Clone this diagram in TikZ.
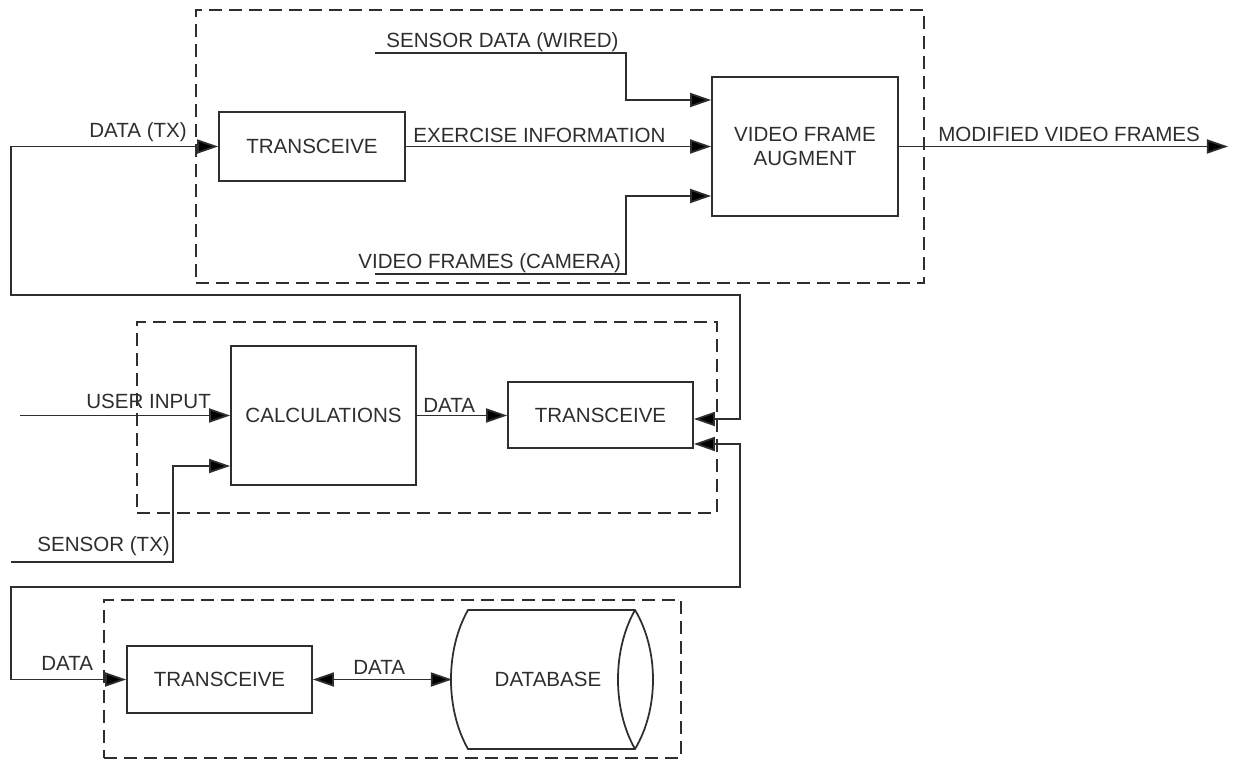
\documentclass[tikz,border=0pt]{standalone}
\usepackage{fontspec}
\setmainfont{Liberation Sans}
\usetikzlibrary{arrows.meta,calc}
\definecolor{ink}{HTML}{2E2E2E}
\begin{document}
\begin{tikzpicture}[x=0.02cm,y=-0.02cm,
  font=\fontsize{11.7}{13.5}\selectfont,
  every node/.style={text=ink},
  wire/.style={draw=ink,line width=1pt},
  tip/.style={-{Triangle[length=12pt,width=8pt,fill=black]}},
  tips/.style={{Triangle[length=12pt,width=8pt,fill=black]}-{Triangle[length=12pt,width=8pt,fill=black]}},
  block/.style={draw=ink,line width=1pt,inner sep=0pt,align=center},
  group/.style={draw=ink,line width=1pt,dash pattern=on 7.4pt off 4pt,inner sep=0pt},
  lbl/.style={anchor=base west,inner sep=0pt}]
\useasboundingbox (0,0) rectangle (1233,760);

% dashed groupings
\node[group,minimum width=14.56cm,minimum height=5.46cm] (g1) at (560,146.5) {};
\node[group,minimum width=11.6cm,minimum height=3.82cm] (g2) at (427,417.5) {};
\node[group,minimum width=11.54cm,minimum height=3.16cm] (g3) at (392.5,679) {};

% blocks
\node[block,minimum width=3.72cm,minimum height=1.38cm] (tr1) at (312,146.5) {TRANSCEIVE};
\node[block,minimum width=3.72cm,minimum height=2.78cm] (aug) at (805,146.5) {VIDEO FRAME\\AUGMENT};
\node[block,minimum width=3.70cm,minimum height=2.78cm] (calc) at (323.5,415.5) {CALCULATIONS};
\node[block,minimum width=3.70cm,minimum height=1.32cm] (tr2) at (600.5,415) {TRANSCEIVE};
\node[block,minimum width=3.70cm,minimum height=1.34cm] (tr3) at (219.5,679.5) {TRANSCEIVE};
\node[inner sep=0pt,minimum width=4.04cm,minimum height=2.78cm] (db) at (548,679.5) {DATABASE};

% database drum
\draw[wire] (468,610) -- (635,610)
  .. controls (659,650) and (659,709) .. (635,749) -- (468,749)
  .. controls (445.3,709) and (445.3,650) .. cycle;
\draw[wire] (635,610) .. controls (612.3,650) and (612.3,709) .. (635,749);
\coordinate (dbin) at (452,679.5);

% free line ends
\coordinate (sdw) at (375,53);
\coordinate (vfc) at (375,274);
\coordinate (mvf) at (1228,146.5);
\coordinate (ui) at (20,415.5);
\coordinate (stx) at (11,562);

% top group connectors
\draw[wire,tip] (sdw) -- (626,53) |- ($(aug.west)+(0,-46.5)$);
\draw[wire,tip] (tr1.east) -- (aug.west);
\draw[wire,tip] (vfc) -- (626,274) |- ($(aug.west)+(0,49.5)$);
\draw[wire,tip] (aug.east) -- (mvf);

% links between groups
\draw[wire,tips] (tr1.west) -- (11,146.5) -- (11,295) -- (740,295) -- (740,419) -- ($(tr2.east)+(0,4)$);
\draw[wire,tips] ($(tr2.east)+(0,29)$) -- (740,444) -- (740,587) -- (11,587) -- (11,679.5) -- (tr3.west);

% middle group connectors
\draw[wire,tip] (ui) -- (calc.west);
\draw[wire,tip] (stx) -- (173,562) |- ($(calc.west)+(0,50.5)$);
\draw[wire,tip] (calc.east) -- (calc.east -| tr2.west);

% bottom group connector
\draw[wire,tips] (tr3.east) -- (dbin);

% labels
\node[lbl] (l1) at (386,48) {SENSOR DATA (WIRED)};
\node[lbl] (l2) at (413,143) {EXERCISE INFORMATION};
\node[lbl] (l3) at (358,268) {VIDEO FRAMES (CAMERA)};
\node[lbl] (l4) at (938,142) {MODIFIED VIDEO FRAMES};
\node[lbl] (l5) at (89,138) {DATA (TX)};
\node[lbl] (l6) at (86,408) {USER INPUT};
\node[lbl] (l7) at (423,412) {DATA};
\node[lbl] (l8) at (37,551) {SENSOR (TX)};
\node[lbl] (l9) at (41,670) {DATA};
\node[lbl] (l10) at (353,674) {DATA};
\end{tikzpicture}
\end{document}
